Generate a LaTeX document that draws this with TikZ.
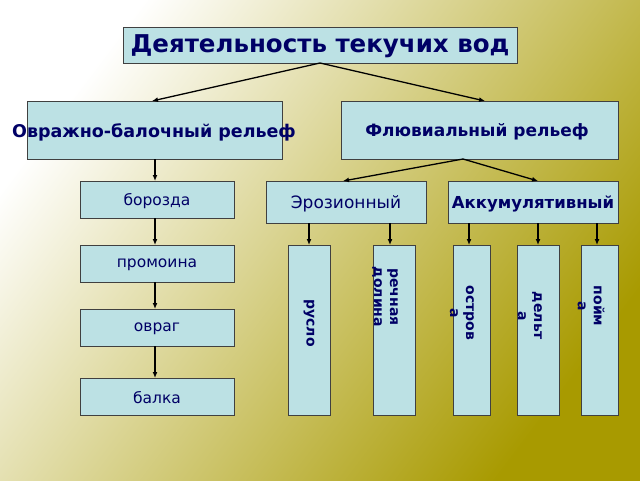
\documentclass[tikz,border=0pt]{standalone}
\usepackage{fontspec}
\setmainfont{DejaVu Sans}
\usetikzlibrary{arrows.meta}
\definecolor{boxfill}{HTML}{BCE1E4}
\definecolor{navy}{HTML}{000066}
\definecolor{olive}{HTML}{A89A00}
\tikzset{
  box/.style={draw=black!75, fill=boxfill, line width=1pt},
  lbl/.style={text=navy, inner sep=0pt, align=center},
  arr/.style={-{Latex[length=6pt,width=5pt]}, line width=1.3pt}
}
\begin{document}
\begin{tikzpicture}[x=1pt,y=-1pt]
\shade[left color=white, right color=olive, shading angle=53] (0,0) rectangle (640,480);
\useasboundingbox (0,0) rectangle (640,480);
% boxes
\draw[box] (123,27) rectangle (517,63);
\draw[box] (27,101) rectangle (282,159);
\draw[box] (341,101) rectangle (618,159);
\draw[box] (80,181) rectangle (234,218);
\draw[box] (80,245) rectangle (234,282);
\draw[box] (80,309) rectangle (234,346);
\draw[box] (80,378) rectangle (234,415);
\draw[box] (266,181) rectangle (426,223);
\draw[box] (448,181) rectangle (618,223);
\foreach \a/\b in {288/330,373/415,453/490,517/559,581/618}
  \draw[box] (\a,245) rectangle (\b,415);
% labels
\node[lbl,font=\bfseries\fontsize{24.5}{26}\selectfont] (title) at (320,46) {Деятельность текучих вод};
\node[lbl,font=\bfseries\fontsize{17.5}{19}\selectfont] (ovr) at (154,132) {Овражно-балочный рельеф};
\node[lbl,font=\bfseries\fontsize{17}{19}\selectfont] (fluv) at (477,132) {Флювиальный рельеф};
\node[lbl,font=\fontsize{15.5}{17}\selectfont] (borozda) at (157,201) {борозда};
\node[lbl,font=\fontsize{15.5}{17}\selectfont] (promoina) at (157,265) {промоина};
\node[lbl,font=\fontsize{15.5}{17}\selectfont] (ovrag) at (157,329) {овраг};
\node[lbl,font=\fontsize{15.5}{17}\selectfont] (balka) at (157,398) {балка};
\node[lbl,font=\fontsize{17}{19}\selectfont] (eroz) at (346,204) {Эрозионный};
\node[lbl,font=\bfseries\fontsize{16.5}{18}\selectfont] (akkum) at (533,204) {Аккумулятивный};
\node[lbl,rotate=-90,font=\bfseries\fontsize{14}{16}\selectfont] (ruslo) at (309,323) {русло};
\node[lbl,rotate=-90,font=\bfseries\fontsize{14}{16}\selectfont] (dolina) at (385,297) {речная\\долина};
\node[lbl,rotate=-90,font=\bfseries\fontsize{14}{16}\selectfont] (ostrova) at (462,313) {остров\\а};
\node[lbl,rotate=-90,font=\bfseries\fontsize{14}{16}\selectfont] (delta) at (530,316) {дельт\\а};
\node[lbl,rotate=-90,font=\bfseries\fontsize{14}{16}\selectfont] (poyma) at (591,306) {пойм\\а};
% connectors
\draw[arr] (320,63) -- (152,101);
\draw[arr] (320,63) -- (485,101);
\draw[arr] (463,159) -- (343,181);
\draw[arr] (463,159) -- (538,181);
\draw[arr] (155,159) -- (155,181);
\draw[arr] (155,218) -- (155,245);
\draw[arr] (155,282) -- (155,309);
\draw[arr] (155,346) -- (155,378);
\foreach \x in {309,390} \draw[arr] (\x,223) -- (\x,245);
\foreach \x in {469,538,597} \draw[arr] (\x,223) -- (\x,245);
\end{tikzpicture}
\end{document}
